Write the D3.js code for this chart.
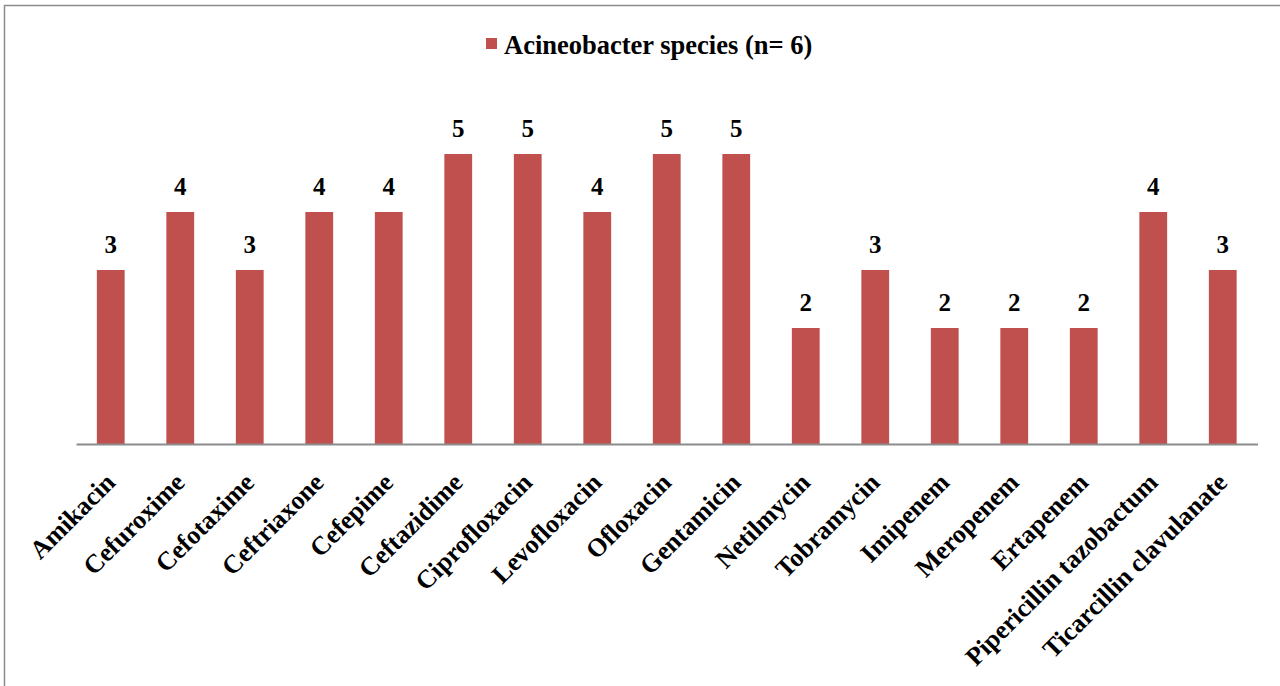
<!DOCTYPE html>
<html><head><meta charset="utf-8">
<script src="https://cdn.jsdelivr.net/npm/d3@7"></script>
<style>body{margin:0;background:#fff;}svg{display:block;}</style>
</head><body>
<svg id="c" width="1280" height="686"></svg>
<script>
const categories = ["Amikacin","Cefuroxime","Cefotaxime","Ceftriaxone","Cefepime","Ceftazidime","Ciprofloxacin","Levofloxacin","Ofloxacin","Gentamicin","Netilmycin","Tobramycin","Imipenem","Meropenem","Ertapenem","Pipericillin tazobactum","Ticarcillin clavulanate"];
const values = [3,4,3,4,4,5,5,4,5,5,2,3,2,2,2,4,3];
const seriesName = "Acineobacter species (n= 6)";
const yDomain = [0, 6];

const svg = d3.select("#c");
const font = "'Liberation Serif','Times New Roman',serif";
svg.append("rect").attr("x",4.5).attr("y",5.5).attr("width",1290).attr("height",700)
  .attr("fill","#fff").attr("stroke","#8c8c8c").attr("stroke-width",1.5);

const x = d3.scaleBand().domain(categories).range([76,1257.5]).paddingInner(0.6).paddingOuter(0.3);
const y = d3.scaleLinear().domain(yDomain).range([444,96]);

svg.append("g").selectAll("rect").data(values).join("rect")
  .attr("x",(d,i)=>x(categories[i])).attr("y",d=>y(d))
  .attr("width",x.bandwidth()).attr("height",d=>y(0)-y(d))
  .attr("fill","#C0504D");

svg.append("g").selectAll("text").data(values).join("text")
  .attr("x",(d,i)=>x(categories[i])+x.bandwidth()/2).attr("y",d=>y(d)-17)
  .attr("text-anchor","middle").attr("font-family",font).attr("font-weight","bold")
  .attr("font-size",25).attr("fill","#000").text(d=>d);

const ax = svg.append("g").attr("transform","translate(0,444)")
  .call(d3.axisBottom(x).tickSize(0).tickSizeOuter(0));
ax.select(".domain").attr("stroke","#8c8c8c").attr("stroke-width",2);
ax.selectAll("text").attr("font-family",font).attr("font-weight","bold").attr("font-size",26)
  .attr("fill","#000").attr("text-anchor","end")
  .attr("dy",0).attr("y",0)
  .attr("transform","translate(6,40) rotate(-45)");

const lg = svg.append("g");
lg.append("rect").attr("x",486).attr("y",38).attr("width",11).attr("height",11).attr("fill","#C0504D");
lg.append("text").attr("x",504).attr("y",54).attr("font-family",font).attr("font-weight","bold")
  .attr("font-size",26.5).attr("fill","#000").text(seriesName);
</script>
</body></html>
